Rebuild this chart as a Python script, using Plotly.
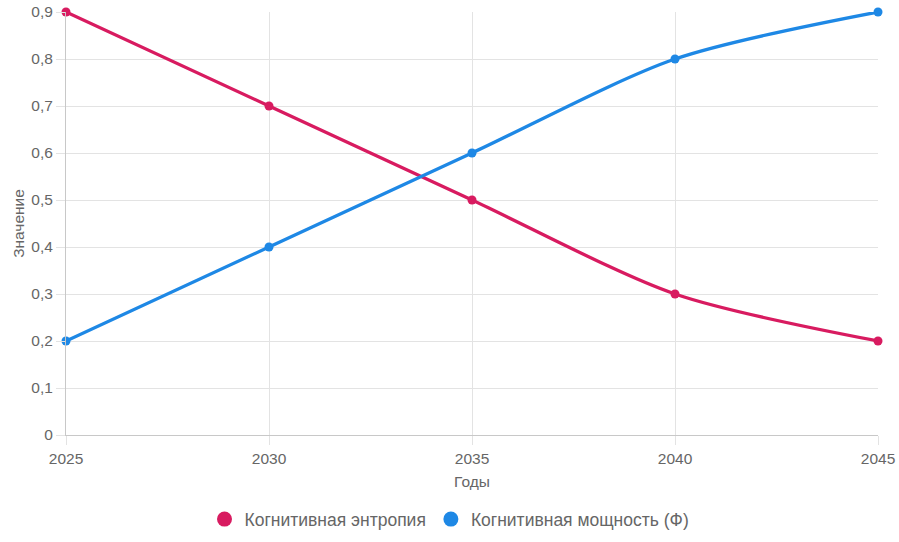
import plotly.graph_objects as go

years = [2025, 2030, 2035, 2040, 2045]
entropy = [0.9, 0.7, 0.5, 0.3, 0.2]
power = [0.2, 0.4, 0.6, 0.8, 0.9]
names = ["Когнитивная энтропия", "Когнитивная мощность (Ф)"]
colors = ["#D81B60", "#1E88E5"]
y_ticks = [0, 0.1, 0.2, 0.3, 0.4, 0.5, 0.6, 0.7, 0.8, 0.9]
y_ticktext = ["0", "0,1", "0,2", "0,3", "0,4", "0,5", "0,6", "0,7", "0,8", "0,9"]
x_ticks = [2025, 2030, 2035, 2040, 2045]

fig = go.Figure()
for vals, name, col in zip([entropy, power], names, colors):
    fig.add_trace(go.Scatter(
        x=years, y=vals, mode="lines+markers", name=name,
        line=dict(color=col, width=3.3, shape="spline", smoothing=0.8),
        marker=dict(color=col, size=9), showlegend=False, cliponaxis=False,
    ))
    fig.add_trace(go.Scatter(
        x=[None], y=[None], mode="markers", name=name,
        marker=dict(color=col, size=15), showlegend=True,
    ))

font = "Liberation Sans, Arial, sans-serif"
fig.update_layout(
    width=899, height=542,
    margin=dict(l=66, r=21, t=12, b=107, autoexpand=False),
    paper_bgcolor="white", plot_bgcolor="white",
    font=dict(family=font, size=15, color="#666"),
    separators=", ",
    legend=dict(orientation="h", x=0.5, xanchor="center", xref="container",
                y=0.042, yanchor="middle", yref="container",
                font=dict(size=17.5, color="#666"), itemwidth=30),
    xaxis=dict(
        range=[2025, 2045], tickvals=x_ticks, showgrid=True, gridcolor="#e3e3e3",
        ticks="outside", ticklen=9, tickcolor="#e3e3e3", zeroline=False,
        showline=True, linecolor="#c8c8c8", linewidth=1, automargin=False,
        ticklabeloverflow="allow",
        title=dict(text="Годы", font=dict(size=15.5, color="#666"), standoff=10),
        tickfont=dict(size=15.5, color="#666"),
    ),
    yaxis=dict(
        range=[0, 0.9], tickvals=y_ticks, ticktext=y_ticktext, showgrid=True,
        gridcolor="#e3e3e3", ticks="outside", ticklen=9, tickcolor="#e3e3e3",
        zeroline=False, showline=True, linecolor="#c8c8c8", linewidth=1, automargin=False,
        ticklabeloverflow="allow",
        title=dict(text="Значение", font=dict(size=15.5, color="#666"), standoff=2),
        tickfont=dict(size=15.5, color="#666"),
    ),
)
fig.write_html("out.html", config={"displayModeBar": False},
               post_script="document.body.style.margin='0';")
